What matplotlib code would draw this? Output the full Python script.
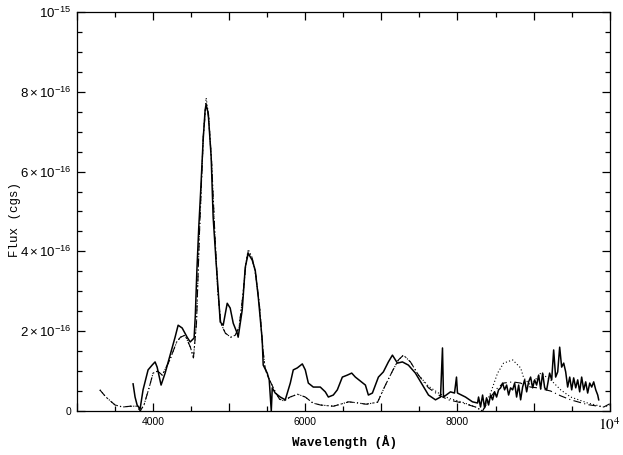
import matplotlib
matplotlib.use('Agg')
import matplotlib.pyplot as plt
from matplotlib.ticker import MultipleLocator, FixedLocator

# observed spectrum (wavelength in Angstrom, flux in 1e-16 cgs)
obs_wave = [3737, 3763, 3790, 3829, 3868, 3934, 3987, 4026, 4053, 4105,
            4158, 4224, 4289, 4329, 4382, 4447, 4487, 4539, 4555,
            4575, 4600, 4625, 4658, 4684, 4697, 4724, 4763, 4789, 4829, 4855,
            4882, 4921, 4974, 5013, 5053, 5105, 5118, 5171, 5211, 5250,
            5303, 5342, 5382, 5434, 5447, 5500, 5526, 5553, 5566, 5605,
            5671, 5737, 5803, 5842, 5895, 5961, 6000, 6040, 6105, 6197,
            6263, 6303, 6368, 6421, 6487, 6553, 6610, 6658, 6790, 6829,
            6882, 6961, 7026, 7092, 7145, 7211, 7276, 7355, 7447, 7540,
            7619, 7711, 7777, 7803, 7816, 7908, 7961, 7987, 8000, 8105,
            8197, 8264, 8277, 8303, 8330, 8356, 8382, 8409, 8435, 8461,
            8488, 8514, 8540, 8567, 8593, 8619, 8646, 8672, 8698, 8725,
            8751, 8777, 8804, 8830, 8856, 8882, 8909, 8935, 8961, 8988,
            9014, 9040, 9067, 9093, 9119, 9146, 9172, 9211, 9238, 9264,
            9290, 9317, 9343, 9369, 9396, 9422, 9448, 9475, 9501, 9527,
            9554, 9580, 9606, 9632, 9659, 9685, 9711, 9738, 9764, 9790,
            9817, 9843, 9856]
obs_flux = [0.68, 0.35, 0.15, 0.05, 0.53, 1.03, 1.15, 1.23, 1.10, 0.65,
            0.95, 1.40, 1.85, 2.15, 2.08, 1.85, 1.73, 1.83, 2.40,
            3.50, 4.60, 5.50, 6.80, 7.55, 7.67, 7.47, 6.37, 4.86, 3.70, 3.03,
            2.23, 2.15, 2.70, 2.58, 2.20, 1.95, 1.85, 2.53, 3.60, 3.95,
            3.78, 3.53, 2.86, 1.78, 1.15, 0.95, 0.78, 0.00, 0.58, 0.45,
            0.35, 0.28, 0.70, 1.03, 1.08, 1.18, 1.03, 0.70, 0.60, 0.60,
            0.48, 0.35, 0.40, 0.53, 0.85, 0.90, 0.95, 0.85, 0.65, 0.40,
            0.45, 0.85, 0.98, 1.23, 1.40, 1.20, 1.23, 1.15, 0.95, 0.65,
            0.40, 0.28, 0.35, 1.58, 0.35, 0.48, 0.45, 0.85, 0.45, 0.35,
            0.23, 0.20, 0.35, 0.10, 0.40, 0.08, 0.33, 0.15, 0.40, 0.28,
            0.48, 0.35, 0.53, 0.58, 0.70, 0.53, 0.65, 0.40, 0.58, 0.53,
            0.70, 0.35, 0.65, 0.28, 0.60, 0.78, 0.48, 0.73, 0.85, 0.58,
            0.78, 0.65, 0.90, 0.55, 0.95, 0.58, 0.53, 0.95, 0.78, 1.53,
            0.85, 0.98, 1.60, 1.10, 1.20, 0.98, 0.60, 0.85, 0.53, 0.83,
            0.58, 0.78, 0.48, 0.85, 0.53, 0.73, 0.45, 0.70, 0.60, 0.73,
            0.53, 0.40, 0.28]

# model spectra
model_wave = [3300, 3380, 3500, 3600, 3700, 3790, 3830, 3880, 3950, 4000,
              4060, 4120, 4220, 4310, 4360, 4420, 4490, 4530, 4570, 4610,
              4660, 4697, 4730, 4770, 4810, 4850, 4890, 4950, 5020, 5080,
              5130, 5180, 5220, 5250, 5300, 5350, 5400, 5440, 5470, 5500,
              5550, 5600, 5660, 5720, 5800, 5900, 6000, 6100, 6200, 6370,
              6570, 6700, 6800, 6950, 7053, 7145, 7224, 7290, 7382, 7488,
              7619, 7751, 7882, 8066, 8237, 8330, 8435, 8527, 8606, 8725,
              8830, 8870, 8961, 9053, 9093, 9225, 9356, 9488, 9711, 9922,
              10000]
dotted_flux = [0.53, 0.35, 0.15, 0.10, 0.12, 0.12, 0.00, 0.15, 0.60, 0.95,
               1.00, 0.90, 1.28, 1.73, 1.85, 1.90, 1.60, 1.33, 2.20, 4.50,
               6.90, 7.85, 7.40, 6.20, 4.50, 3.00, 2.20, 1.95, 1.85, 1.90,
               2.10, 2.90, 3.70, 4.05, 3.85, 3.40, 2.60, 1.60, 1.10, 0.90,
               0.70, 0.50, 0.30, 0.25, 0.35, 0.42, 0.35, 0.20, 0.15, 0.12,
               0.23, 0.20, 0.17, 0.22, 0.65, 1.00, 1.28, 1.40, 1.23, 0.90,
               0.62, 0.45, 0.32, 0.22, 0.10, 0.00, 0.45, 0.95, 1.20, 1.28,
               1.08, 0.83, 0.65, 0.85, 0.95, 0.78, 0.53, 0.35, 0.20, 0.10,
               0.15]
dashdot_flux = [0.53, 0.35, 0.15, 0.10, 0.12, 0.12, 0.00, 0.15, 0.60, 0.95,
                1.00, 0.90, 1.28, 1.73, 1.85, 1.90, 1.60, 1.33, 2.20, 4.50,
                6.90, 7.70, 7.35, 6.20, 4.50, 3.00, 2.20, 1.95, 1.85, 1.90,
                2.10, 2.90, 3.70, 4.00, 3.85, 3.40, 2.60, 1.60, 1.10, 0.90,
                0.70, 0.50, 0.30, 0.25, 0.35, 0.42, 0.35, 0.20, 0.15, 0.12,
                0.23, 0.20, 0.17, 0.22, 0.65, 1.00, 1.28, 1.40, 1.23, 0.90,
                0.58, 0.40, 0.28, 0.20, 0.10, 0.00, 0.35, 0.58, 0.70, 0.73,
                0.70, 0.66, 0.60, 0.58, 0.56, 0.50, 0.38, 0.28, 0.16, 0.10,
                0.18]

x_ticks = [4000, 6000, 8000, 10000]
x_tick_labels = ['4000', '6000', '8000', r'$10^4$']
y_ticks = [0, 2, 4, 6, 8, 10]
y_tick_labels = ['0', r'$2\times10^{-16}$', r'$4\times10^{-16}$',
                 r'$6\times10^{-16}$', r'$8\times10^{-16}$', r'$10^{-15}$']

plt.rcParams['font.family'] = ['Liberation Sans', 'DejaVu Sans']
plt.rcParams['mathtext.fontset'] = 'custom'
plt.rcParams['mathtext.rm'] = 'Liberation Sans'
plt.rcParams['mathtext.it'] = 'Liberation Sans'
plt.rcParams['mathtext.bf'] = 'Liberation Sans:bold'

fig = plt.figure(figsize=(6.23, 4.55), dpi=100, facecolor='w')
ax = fig.add_axes([0.1236, 0.0967, 0.855, 0.877])

ax.plot(model_wave, dotted_flux, color='k', lw=0.8, ls=(0, (1, 2)))
ax.plot(model_wave, dashdot_flux, color='k', lw=0.8, ls=(0, (7, 3, 1, 3)))
ax.plot(obs_wave, obs_flux, color='k', lw=1.1)

ax.set_xlim(3000, 10000)
ax.set_ylim(0, 10)

ax.xaxis.set_major_locator(MultipleLocator(1000))
ax.xaxis.set_minor_locator(MultipleLocator(500))
ax.yaxis.set_major_locator(FixedLocator(y_ticks))
ax.yaxis.set_minor_locator(MultipleLocator(0.5))

labels = []
for t in ax.get_xticks():
    labels.append(x_tick_labels[x_ticks.index(t)] if t in x_ticks else '')
ax.set_xticklabels(labels)
ax.set_yticklabels(y_tick_labels)

ax.tick_params(which='both', direction='in', top=True, right=True, colors='k')
ax.tick_params(axis='x', labelsize=7.5, pad=4)
ax.tick_params(axis='y', labelsize=9.5, pad=4)
ax.tick_params(which='major', length=6, width=0.9)
ax.tick_params(which='minor', length=3.5, width=0.9)
for s in ax.spines.values():
    s.set_linewidth(0.9)

for lab in ax.get_xticklabels():
    if lab.get_text() == r'$10^4$':
        lab.set_math_fontfamily('stix')
        lab.set_fontsize(11)
for lab in ax.get_yticklabels():
    if lab.get_text() == '0':
        lab.set_fontsize(7.5)

ax.set_xlabel('Wavelength (Å)', family='Liberation Mono', weight='bold', fontsize=9)
ax.set_ylabel('Flux (cgs)', family='Liberation Mono', fontsize=9)
ax.xaxis.set_label_coords(0.503, -0.06)
ax.yaxis.set_label_coords(-0.105, 0.48)

fig.savefig('out.png', dpi=100)
plt.close(fig)
